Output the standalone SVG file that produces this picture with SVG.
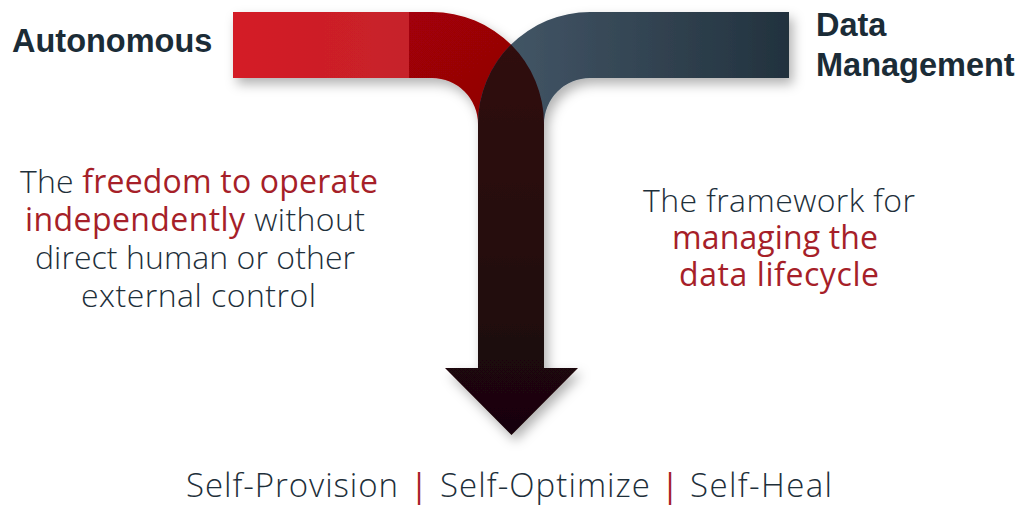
<svg xmlns="http://www.w3.org/2000/svg" width="1026" height="505" viewBox="0 0 1026 505">
<defs>
<linearGradient id="gRedL" x1="0" y1="0" x2="1" y2="0"><stop offset="0" stop-color="#d41d25"/><stop offset="1" stop-color="#c6212a"/></linearGradient>
<linearGradient id="gRedD" x1="0" y1="0" x2="1" y2="1"><stop offset="0" stop-color="#a30007"/><stop offset="1" stop-color="#8c0005"/></linearGradient>
<linearGradient id="gBlue" x1="0" y1="0" x2="1" y2="0"><stop offset="0" stop-color="#46596a"/><stop offset="1" stop-color="#22323e"/></linearGradient>
<linearGradient id="gDark" gradientUnits="userSpaceOnUse" x1="0" y1="45" x2="0" y2="435"><stop offset="0" stop-color="#300c10"/><stop offset="0.5" stop-color="#260a0c"/><stop offset="1" stop-color="#180507"/></linearGradient>
<filter id="sh" filterUnits="userSpaceOnUse" x="0" y="0" width="1026" height="505"><feDropShadow dx="4" dy="6" stdDeviation="6" flood-color="#000" flood-opacity="0.3"/></filter>
<style>
.h{font-family:"Liberation Sans",Arial,sans-serif;font-weight:700;font-size:32.5px;fill:#1b2c37}
.t{font-family:"Open Sans","Liberation Sans",sans-serif;font-weight:300;font-size:32px;fill:#1e2f3a}
.f{font-size:33px}
.r{fill:#a61f29;font-weight:400}
</style>
</defs>
<g id="shapes" filter="url(#sh)">
<rect id="red-light" x="233" y="12" width="177" height="66" fill="url(#gRedL)"/>
<path id="red-curve" d="M409,12 H432 A112,112 0 0 1 544,124 L478,124 A46,46 0 0 0 432,78 H409 Z" fill="url(#gRedD)"/>
<path id="blue-curve" d="M789,12 H590 A112,112 0 0 0 478,124 L544,124 A46,46 0 0 1 590,78 H789 Z" fill="url(#gBlue)"/>
<path id="arrow" d="M478,124 A112,112 0 0 1 511,44.6 A112,112 0 0 1 544,124 V368 H578 L511.5,435 L445,368 H478 Z" fill="url(#gDark)"/>
</g>
<g id="label-autonomous"><text class="h" x="12" y="52">Autonomous</text></g>
<g id="label-data"><text class="h" x="816" y="36">Data</text><text class="h" x="816" y="76">Management</text></g>
<g id="desc-left">
<text class="t" x="20" y="193" textLength="358">The <tspan class="r">freedom to operate</tspan></text>
<text class="t" x="25" y="231" textLength="340"><tspan class="r">independently</tspan> without</text>
<text class="t" x="35" y="269" textLength="320">direct human or other</text>
<text class="t" x="81" y="307" textLength="235">external control</text>
</g>
<g id="desc-right">
<text class="t" x="643" y="212" textLength="272">The framework for</text>
<text class="t r" x="672" y="249" textLength="206">managing the</text>
<text class="t r" x="679" y="286" textLength="200">data lifecycle</text>
</g>
<g id="footer">
<text class="t f" x="186" y="497" textLength="212">Self-Provision</text>
<text class="t f r" x="410" y="497">|</text>
<text class="t f" x="440" y="497" textLength="210">Self-Optimize</text>
<text class="t f r" x="661" y="497">|</text>
<text class="t f" x="690" y="497" textLength="142">Self-Heal</text>
</g>
</svg>
